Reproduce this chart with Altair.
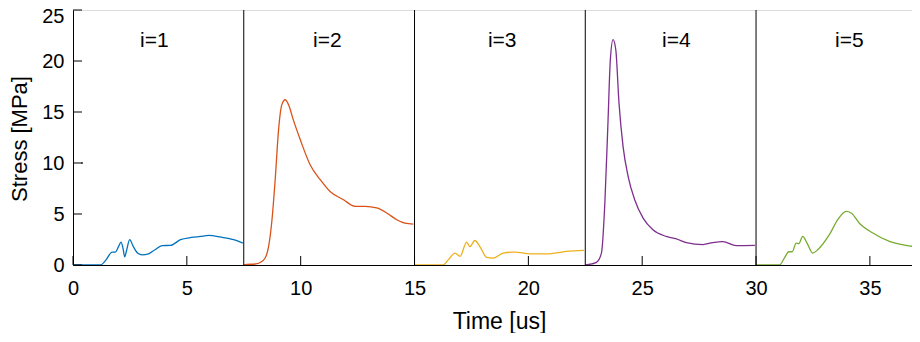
import altair as alt
import pandas as pd

# ---- data ----
series_names = ["i=1", "i=2", "i=3", "i=4", "i=5"]
series_colors = ["#0072BD", "#D95319", "#EDB120", "#7E2F8E", "#77AC30"]
label_x = [3.57, 11.17, 18.85, 26.5, 34.1]

t1 = [0, 1.2, 1.45, 1.72, 1.86, 2.0, 2.11, 2.2, 2.27, 2.35, 2.49, 2.65, 2.85, 3.03, 3.32, 3.6, 3.91, 4.28, 4.72, 5.2, 5.59, 5.96, 6.47, 7.05, 7.46]
s1 = [0, 0, 0.5, 1.27, 1.27, 1.8, 2.25, 1.6, 0.8, 1.4, 2.48, 1.8, 1.15, 1.0, 1.1, 1.5, 1.9, 1.92, 2.48, 2.7, 2.8, 2.9, 2.75, 2.48, 2.15]

t2 = [7.5, 7.64, 8.0, 8.22, 8.44, 8.59, 8.74, 8.88, 9.03, 9.17, 9.32, 9.47, 9.68, 9.98, 10.42, 10.86, 11.29, 11.88, 12.39, 12.83, 13.34, 13.78, 14.22, 14.58, 14.95]
s2 = [0, 0.05, 0.1, 0.25, 0.69, 1.8, 4.44, 8.36, 13.3, 15.7, 16.2, 15.7, 14.2, 12.3, 9.8, 8.36, 7.2, 6.4, 5.75, 5.75, 5.59, 5.1, 4.44, 4.1, 4.0]

t3 = [15, 16.26, 16.48, 16.78, 17.0, 17.29, 17.43, 17.65, 17.87, 18.17, 18.46, 18.9, 19.41, 20.07, 20.8, 21.67, 22.45]
s3 = [0, 0, 0.5, 1.17, 0.85, 2.25, 1.8, 2.4, 1.8, 0.75, 0.68, 1.17, 1.27, 1.1, 1.1, 1.33, 1.43]

t4 = [22.5, 22.99, 23.21, 23.36, 23.5, 23.6, 23.72, 23.84, 23.98, 24.16, 24.38, 24.67, 25.04, 25.47, 26.06, 26.5, 26.94, 27.67, 28.1, 28.54, 29.13, 29.95]
s4 = [0, 0.26, 1.17, 6.1, 14.2, 20.1, 22.1, 21.1, 15.9, 11.6, 8.7, 6.4, 4.6, 3.46, 2.8, 2.55, 2.2, 2.0, 2.2, 2.3, 1.9, 1.92]

t5 = [30, 31.03, 31.25, 31.44, 31.59, 31.76, 31.88, 32.05, 32.23, 32.49, 32.71, 33.22, 33.59, 33.96, 34.18, 34.54, 35.13, 35.86, 36.59, 37.2]
s5 = [0, 0, 0.69, 1.3, 1.3, 2.15, 2.1, 2.8, 2.2, 1.17, 1.5, 2.97, 4.44, 5.25, 5.1, 4.1, 3.14, 2.31, 1.92, 1.76]

separators = [7.5, 15, 22.5, 30]
x_ticks = [0, 5, 10, 15, 20, 25, 30, 35]
y_ticks = [0, 5, 10, 15, 20, 25]
x_max = 36.85
y_max = 25
stray_dot_x = [0.4]
stray_dot_y = [10]

# ---- build tables ----
rows = []
for name, ts, ss in zip(series_names, [t1, t2, t3, t4, t5], [s1, s2, s3, s4, s5]):
    for k, (t, s) in enumerate(zip(ts, ss)):
        rows.append({"series": name, "t": t, "s": s, "order": k})
curves = pd.DataFrame(rows)

labels = pd.DataFrame({"series": series_names, "t": label_x})
seps = pd.DataFrame({"t": separators})
xt = pd.DataFrame({"t": x_ticks})
yt = pd.DataFrame({"s": y_ticks})
dot = pd.DataFrame({"t": stray_dot_x, "s": stray_dot_y})

W, H = 839, 255
FONT = "Liberation Sans"

xscale = alt.Scale(domain=[0, x_max], nice=False, zero=False)
yscale = alt.Scale(domain=[0, y_max], nice=False)

x_axis = alt.Axis(
    values=x_ticks, ticks=False, grid=False, domainColor="black", domainWidth=1,
    labelFontSize=20, labelFont=FONT, labelColor="black", labelPadding=13,
    labelFlush=False,
    title="Time [us]", titleFont=FONT, titleFontSize=23, titleFontWeight="normal",
    titleColor="black", titleX=426, titleY=63, titleBaseline="alphabetic",
    titleAlign="center",
)
y_axis = alt.Axis(
    values=y_ticks, ticks=False, grid=False, domainColor="black", domainWidth=1,
    labelFontSize=20, labelFont=FONT, labelColor="black", labelPadding=9,
    labelFlush=False,
    labelOffset=alt.condition("datum.value == 25", alt.value(6), alt.value(0)),
    title="Stress [MPa]", titleFont=FONT, titleFontSize=22, titleFontWeight="normal",
    titleColor="black", titleX=-54, titleY=H / 2 + 1, titleAngle=-90,
    titleBaseline="middle", titleAlign="center",
)

color = alt.Color("series:N", scale=alt.Scale(domain=series_names, range=series_colors), legend=None)

lines = alt.Chart(curves).mark_line(strokeWidth=1.3, interpolate="monotone", clip=True).encode(
    x=alt.X("t:Q", scale=xscale, axis=x_axis),
    y=alt.Y("s:Q", scale=yscale, axis=y_axis),
    color=color,
    detail="series:N",
    order="order:Q",
)

sep_rules = alt.Chart(seps).mark_rule(color="black", strokeWidth=1).encode(
    x=alt.X("t:Q", scale=xscale)
)

xtick_rules = alt.Chart(xt).mark_rule(color="black", strokeWidth=1).encode(
    x=alt.X("t:Q", scale=xscale), y=alt.value(H - 9), y2=alt.value(H)
)
ytick_rules = alt.Chart(yt).mark_rule(color="black", strokeWidth=1).encode(
    y=alt.Y("s:Q", scale=yscale), x=alt.value(0), x2=alt.value(9)
)

texts = alt.Chart(labels).mark_text(font=FONT, fontSize=21, color="black", baseline="middle", align="center").encode(
    x=alt.X("t:Q", scale=xscale), y=alt.value(31), text="series:N"
)

dots = alt.Chart(dot).mark_square(size=2, color="black", opacity=1).encode(
    x=alt.X("t:Q", scale=xscale), y=alt.Y("s:Q", scale=yscale)
)

chart = alt.layer(lines, sep_rules, xtick_rules, ytick_rules, texts, dots).properties(
    width=W, height=H,
    autosize=alt.AutoSizeParams(type="none"),
    padding={"left": 65, "top": 2, "right": 0, "bottom": 68},
).configure_view(stroke=None).configure(background="white")

chart.save("out.html", embed_options={"renderer": "svg", "actions": False})
